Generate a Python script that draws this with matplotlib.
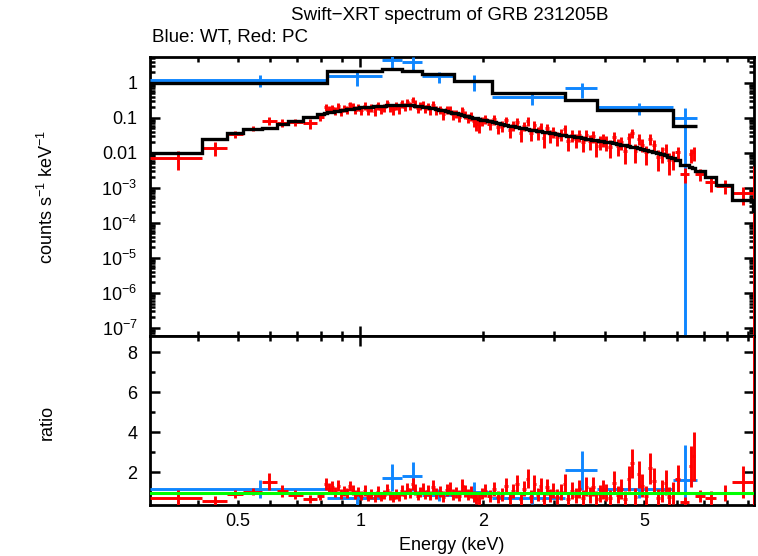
import numpy as np
import matplotlib
matplotlib.use('Agg')
import matplotlib.pyplot as plt
from matplotlib.ticker import FixedLocator, FuncFormatter, NullFormatter

plt.rcParams['font.family'] = ['Liberation Sans', 'DejaVu Sans']
plt.rcParams['mathtext.fontset'] = 'custom'
plt.rcParams['mathtext.rm'] = 'Liberation Sans'
plt.rcParams['mathtext.it'] = 'Liberation Sans:italic'
plt.rcParams['mathtext.bf'] = 'Liberation Sans:bold'

"""DATA READ FROM THE SPECTRUM"""

# WT mode (blue): bin edges (keV), model counts/s/keV, data/model ratio and its error
wt_edges = [0.304, 0.83, 1.13, 1.27, 1.42, 1.70, 2.11, 3.18, 3.83, 5.87, 6.73]
wt_model = [1.0, 2.2, 2.5, 2.15, 1.77, 1.1, 0.53, 0.33, 0.17, 0.059]
wt_ratio = [1.2, 0.72, 1.75, 1.8, 0.88, 1.05, 0.74, 2.1, 1.17, 1.65]
wt_rerr = [0.45, 0.35, 0.65, 0.7, 0.3, 0.5, 0.3, 0.95, 0.45, 1.7]

# PC mode (red)
pc_edges = [0.304, 0.408, 0.470, 0.514, 0.573, 0.623, 0.663, 0.722, 0.781, 0.815,
            0.830, 0.845, 0.860, 0.875, 0.890, 0.905, 0.920, 0.935, 0.950, 0.965, 0.980, 0.995,
            1.015, 1.035, 1.055, 1.075, 1.095, 1.115, 1.135, 1.155, 1.175, 1.195, 1.215, 1.235,
            1.255, 1.275, 1.295, 1.315, 1.335, 1.355, 1.375, 1.395, 1.415, 1.435, 1.455, 1.475, 1.495,
            1.525, 1.555, 1.585, 1.615, 1.645, 1.675, 1.705, 1.735, 1.765, 1.795, 1.825, 1.855,
            1.885, 1.915, 1.945, 1.975, 2.005,
            2.055, 2.105, 2.155, 2.205, 2.255, 2.305, 2.355, 2.405, 2.455, 2.505, 2.555, 2.605,
            2.655, 2.705, 2.755, 2.805, 2.855, 2.905, 2.955, 3.005,
            3.075, 3.145, 3.215, 3.285, 3.355, 3.425, 3.495, 3.565, 3.635, 3.705, 3.775, 3.845, 3.915, 3.985,
            4.075, 4.165, 4.255, 4.345, 4.435, 4.525, 4.615, 4.705, 4.795, 4.885, 4.975,
            5.095, 5.215, 5.335, 5.455, 5.575, 5.695, 5.815, 5.935, 6.130,
            6.450, 6.550, 6.670, 7.030, 7.520, 8.230, 9.270, 9.310]
pc_model = [0.0102, 0.025, 0.0365, 0.0475, 0.053, 0.067, 0.084, 0.105, 0.13,
            0.14, 0.145, 0.15, 0.155, 0.16, 0.165, 0.17, 0.175, 0.18, 0.185, 0.19, 0.195,
            0.200, 0.204, 0.208, 0.212, 0.216, 0.220, 0.223, 0.226, 0.229, 0.231, 0.233, 0.234,
            0.235, 0.235, 0.235, 0.234, 0.232, 0.229, 0.225, 0.221, 0.216, 0.211, 0.205, 0.199, 0.193,
            0.186, 0.178, 0.170, 0.163, 0.155, 0.148, 0.141, 0.134, 0.128, 0.122, 0.116, 0.111,
            0.106, 0.101, 0.097, 0.093, 0.089,
            0.086, 0.081, 0.076, 0.071, 0.067, 0.063, 0.060, 0.057, 0.054, 0.052, 0.050, 0.048,
            0.046, 0.0445, 0.043, 0.0415, 0.040, 0.0388, 0.0375, 0.0363,
            0.035, 0.0336, 0.0323, 0.031, 0.0298, 0.0287, 0.0277, 0.0267, 0.0257, 0.0248, 0.0239,
            0.0231, 0.0223, 0.0215,
            0.0208, 0.0199, 0.019, 0.0181, 0.0173, 0.0165, 0.0157, 0.015, 0.0143, 0.0136, 0.0129,
            0.0122, 0.0114, 0.0106, 0.0099, 0.0092, 0.0085, 0.0078, 0.0071, 0.0062,
            0.0045, 0.0040, 0.0037, 0.0030, 0.0021, 0.0012, 0.00046, 0.00022]
pc_ratio = [0.71, 0.57, 0.95, 1.05, 1.55, 1.1, 0.9, 0.67, 0.84,
            1.45, 1.2, 1.3, 1.05, 1.35, 0.95, 1.1, 1.0, 1.35, 1.15, 0.9, 1.05,
            0.85, 1.1, 0.8, 0.95, 0.75, 1.05, 0.8, 0.9, 1.15, 0.85, 0.75, 0.95,
            0.78, 1.1, 0.9, 1.2, 1.0, 1.45, 1.15, 0.85, 1.05, 1.2, 0.9, 1.1, 0.85,
            1.3, 0.95, 1.05, 0.8, 1.15, 1.2, 0.9, 1.0, 0.85, 1.35, 1.1, 0.9,
            1.05, 0.8, 0.7, 0.65, 0.95,
            1.1, 0.85, 1.2, 0.78, 0.9, 1.35, 0.75, 1.1, 1.45, 0.7, 1.2, 1.7,
            0.8, 1.45, 0.9, 1.35, 0.65, 1.3, 0.85, 1.1,
            0.8, 1.05, 1.45, 0.7, 1.1, 0.85, 1.2, 0.75, 1.3, 0.9, 1.3, 0.7, 0.95, 1.15,
            1.0, 0.75, 1.5, 0.9, 1.2, 0.7, 1.7, 2.45, 0.8, 1.9, 1.35,
            0.85, 2.2, 1.6, 0.75, 1.1, 1.5, 0.8, 1.0, 1.7,
            0.55, 2.3, 2.8, 0.84, 0.72, 0.97, 1.52, 8.6]
pc_rerr = [0.4, 0.25, 0.2, 0.18, 0.4, 0.3, 0.22, 0.2, 0.2,
           0.3, 0.27, 0.27, 0.25, 0.27, 0.25, 0.25, 0.25, 0.25, 0.25, 0.23, 0.23,
           0.24, 0.27, 0.22, 0.25, 0.22, 0.26, 0.22, 0.24, 0.27, 0.23, 0.22, 0.25,
           0.22, 0.26, 0.24, 0.27, 0.25, 0.3, 0.27, 0.23, 0.25, 0.28, 0.24, 0.26, 0.24,
           0.32, 0.27, 0.28, 0.26, 0.3, 0.31, 0.27, 0.28, 0.27, 0.33, 0.3, 0.27,
           0.3, 0.27, 0.26, 0.26, 0.28,
           0.33, 0.3, 0.35, 0.3, 0.32, 0.38, 0.3, 0.35, 0.4, 0.3, 0.36, 0.45,
           0.32, 0.42, 0.34, 0.4, 0.3, 0.4, 0.34, 0.38,
           0.36, 0.4, 0.48, 0.34, 0.42, 0.38, 0.45, 0.36, 0.47, 0.4, 0.48, 0.36, 0.42, 0.46,
           0.44, 0.4, 0.56, 0.44, 0.5, 0.4, 0.62, 0.72, 0.44, 0.66, 0.55,
           0.48, 0.75, 0.6, 0.45, 0.55, 0.6, 0.5, 0.55, 0.65,
           0.25, 1.0, 1.2, 0.3, 0.35, 0.4, 0.8, 10.5]

x_major = [1.0]
x_minor = [0.4, 0.5, 0.6, 0.7, 0.8, 0.9, 2, 3, 4, 5, 6, 7, 8, 9]
x_labelled = [0.5, 2, 5]
y_decades = [1e-7, 1e-6, 1e-5, 1e-4, 1e-3, 0.01, 0.1, 1.0]
ratio_major = [2, 4, 6, 8]
ratio_minor = [1, 3, 5, 7]

BLUE = '#0f86ff'
RED = '#ff0000'
GREEN = '#00ff00'
LW = 2.1

"""FUNCTIONS TO PLOT THE SPECTRUM"""


def draw_group(ax_spec, ax_ratio, edges, model, ratio, rerr, color):
    edges = np.array(edges)
    model = np.array(model)
    ratio = np.array(ratio)
    rerr = np.array(rerr)
    centers = 0.5 * (edges[1:] + edges[:-1])
    half = 0.5 * (edges[1:] - edges[:-1])
    data = model * ratio
    derr = model * rerr
    # on the log axis the lower bar can not go below zero
    lo = np.minimum(derr, data * (1 - 1e-9))
    ax_spec.errorbar(centers, data, xerr=half, yerr=[lo, derr], fmt='none',
                     ecolor=color, elinewidth=LW, capsize=0, zorder=3)
    ax_ratio.errorbar(centers, ratio, xerr=half, yerr=rerr, fmt='none',
                      ecolor=color, elinewidth=LW, capsize=0, zorder=3)
    ax_spec.stairs(model, edges, baseline=None, color='k', lw=LW + 0.3, zorder=4)


def log_label(v, pos):
    if v >= 1:
        return '1'
    if v >= 0.09:
        return '0.1'
    if v >= 0.009:
        return '0.01'
    return r'$10^{%d}$' % round(np.log10(v))


fig = plt.figure(figsize=(7.58, 5.56), dpi=100)
ax1 = fig.add_axes([150 / 758, 1 - 336 / 556, 604 / 758, 279 / 556])
ax2 = fig.add_axes([150 / 758, 1 - 505 / 556, 604 / 758, 169 / 556], sharex=ax1)

draw_group(ax1, ax2, wt_edges, wt_model, wt_ratio, wt_rerr, BLUE)
draw_group(ax1, ax2, pc_edges, pc_model, pc_ratio, pc_rerr, RED)
ax2.axhline(1.0, color=GREEN, lw=LW + 0.1, zorder=5)

ax1.set_xscale('log')
ax1.set_yscale('log')
ax1.set_xlim(0.304, 9.30)
ax1.set_ylim(5.9e-8, 5.5)
ax2.set_ylim(0.38, 8.8)

ax1.xaxis.set_major_locator(FixedLocator(x_major))
ax1.xaxis.set_minor_locator(FixedLocator(x_minor))
ax1.xaxis.set_major_formatter(FuncFormatter(lambda v, p: '1'))
ax1.xaxis.set_minor_formatter(FuncFormatter(
    lambda v, p: ('%g' % v) if any(abs(v - t) < 1e-6 for t in x_labelled) else ''))

ax1.yaxis.set_major_locator(FixedLocator(y_decades))
ax1.yaxis.set_minor_locator(FixedLocator(
    [m * d for d in [1e-8] + y_decades for m in range(2, 10)]))
ax1.yaxis.set_major_formatter(FuncFormatter(log_label))
ax1.yaxis.set_minor_formatter(NullFormatter())

ax2.yaxis.set_major_locator(FixedLocator(ratio_major))
ax2.yaxis.set_minor_locator(FixedLocator(ratio_minor))

for ax in (ax1, ax2):
    ax.tick_params(which='both', direction='in', top=True, right=True, width=1.8,
                   labelsize=13, pad=9)
    ax.tick_params(which='major', length=7)
    ax.tick_params(which='minor', length=3.5)
    for s in ax.spines.values():
        s.set_linewidth(2.0)
ax1.tick_params(which='both', labelbottom=False)
ax2.tick_params(axis='x', which='both', pad=6)

fig.text(450 / 758, 1 - 15 / 556, 'Swift\u2212XRT spectrum of GRB 231205B',
         ha='center', va='center', fontsize=13.5)
fig.text(152 / 758, 1 - 37 / 556, 'Blue: WT, Red: PC', ha='left', va='center', fontsize=13.5)
fig.text(47 / 758, 1 - 197 / 556, r'counts s$^{-1}$ keV$^{-1}$', rotation=90,
         ha='center', va='center', fontsize=13)
fig.text(47 / 758, 1 - 422 / 556, 'ratio', rotation=90, ha='center', va='center', fontsize=13)
fig.text(452 / 758, 1 - 545 / 556, 'Energy (keV)', ha='center', va='center', fontsize=13)

fig.savefig('out.png', dpi=100)
